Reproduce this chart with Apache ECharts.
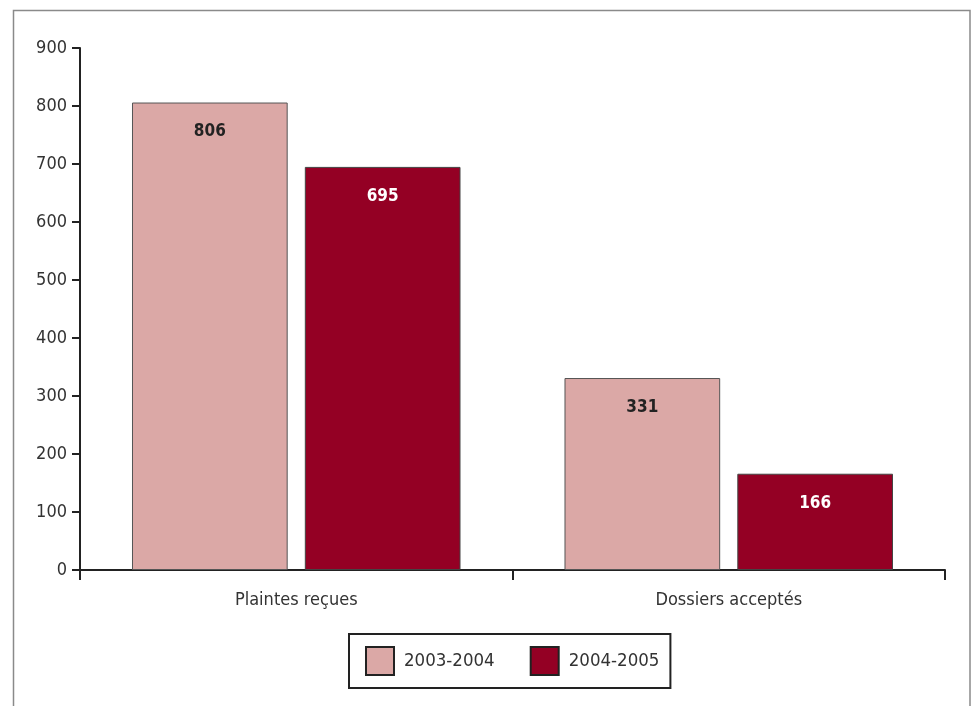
<!DOCTYPE html>
<html>
<head>
<meta charset="utf-8">
<script src="https://cdn.jsdelivr.net/npm/echarts@6/dist/echarts.min.js"></script>
<style>
html,body{margin:0;padding:0;background:#fff;}
#chart{width:971px;height:706px;}
</style>
</head>
<body>
<div id="chart"></div>
<script>
const categories = ['Plaintes reçues', 'Dossiers acceptés'];
const seriesNames = ['2003-2004', '2004-2005'];
const values2003 = [806, 331];
const values2004 = [695, 166];
const yTicks = [0, 100, 200, 300, 400, 500, 600, 700, 800, 900];

const FONT = '"Liberation Sans Narrow", "DejaVu Sans Condensed", sans-serif';
const chart = echarts.init(document.getElementById('chart'));
chart.setOption({
  animation: false,
  textStyle: { fontFamily: FONT },
  graphic: [{
    type: 'rect',
    shape: { x: 13.5, y: 10.5, width: 956.5, height: 720 },
    style: { fill: 'none', stroke: '#8a8a8a', lineWidth: 1.5 },
    silent: true
  }],
  grid: { left: 80, right: 26, top: 48, bottom: 136 },
  legend: {
    data: seriesNames,
    left: 349, top: 634,
    padding: [12, 11, 12, 16],
    itemWidth: 28, itemHeight: 28,
    itemGap: 35,
    borderColor: '#222', borderWidth: 2,
    icon: 'rect',
    itemStyle: { borderColor: '#222', borderWidth: 2 },
    textStyle: { fontFamily: FONT, fontSize: 18.5, color: '#333', padding: [0, 0, 0, 5] }
  },
  xAxis: {
    type: 'category',
    data: categories,
    axisLine: { lineStyle: { color: '#222', width: 2 } },
    axisTick: { show: true, length: 10, lineStyle: { color: '#222', width: 2 } },
    axisLabel: { fontFamily: FONT, fontSize: 18, color: '#333', margin: 21 }
  },
  yAxis: {
    type: 'value',
    min: 0, max: 900, interval: 100,
    axisLine: { show: true, lineStyle: { color: '#222', width: 2 } },
    axisTick: { show: true, length: 8, lineStyle: { color: '#222', width: 2 } },
    splitLine: { show: false },
    axisLabel: { fontFamily: FONT, fontSize: 18, color: '#333', margin: 13,
      formatter: v => yTicks.includes(v) ? String(v) : '' }
  },
  series: [
    {
      name: seriesNames[0], type: 'bar', data: values2003,
      barWidth: '36%', barGap: '11%',
      itemStyle: { color: '#dba8a6', borderColor: '#555', borderWidth: 1 },
      label: { show: true, position: 'insideTop', distance: 21, fontFamily: FONT,
        fontSize: 17, fontWeight: 'bold', color: '#222' }
    },
    {
      name: seriesNames[1], type: 'bar', data: values2004,
      barWidth: '36%', barGap: '11%',
      itemStyle: { color: '#940024', borderColor: '#444', borderWidth: 1 },
      label: { show: true, position: 'insideTop', distance: 21, fontFamily: FONT,
        fontSize: 17, fontWeight: 'bold', color: '#fff' }
    }
  ]
});
</script>
</body>
</html>
